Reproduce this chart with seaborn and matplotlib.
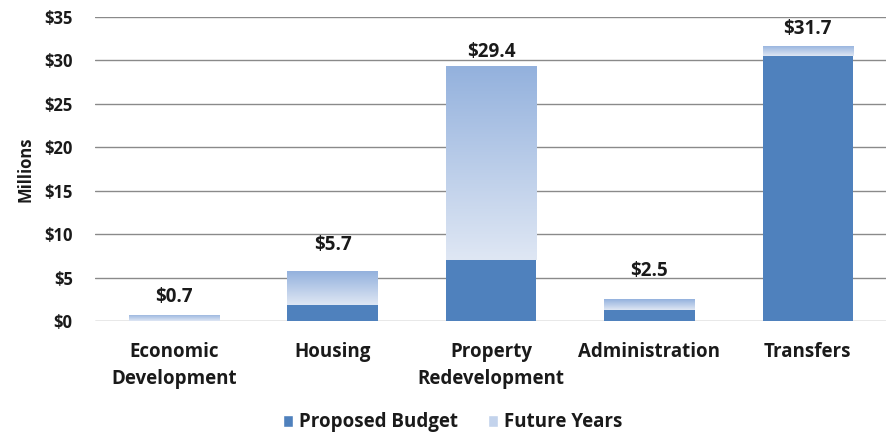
import numpy as np
import pandas as pd
import matplotlib
matplotlib.use("Agg")
import matplotlib.pyplot as plt
import seaborn as sns
from matplotlib.colors import LinearSegmentedColormap
from matplotlib.patches import Patch

# Budget by program area, in millions of dollars
categories = ["Economic\nDevelopment", "Housing", "Property\nRedevelopment",
              "Administration", "Transfers"]
proposed = [0.0, 1.8, 7.0, 1.3, 30.5]
totals = [0.7, 5.7, 29.4, 2.5, 31.7]
total_labels = ["$0.7", "$5.7", "$29.4", "$2.5", "$31.7"]
yticks = [0, 5, 10, 15, 20, 25, 30, 35]
ytick_labels = ["$0", "$5", "$10", "$15", "$20", "$25", "$30", "$35"]
series_names = ["Proposed Budget", "Future Years"]

# Vertical gap (points) between each bar top and its total label
label_gaps = [5.5, 12, 2.5, 13.5, 4.5]

PROPOSED_COLOR = "#4f81bd"
FUTURE_TOP = "#93b1dd"
FUTURE_BOTTOM = "#dfe7f4"
GRID_COLOR = "#8a8a8a"
TEXT_COLOR = "#1a1a1a"
FS = 12
FS_CAT = 13.5

sns.set_theme(style="white")
plt.rcParams["font.family"] = ["Open Sans", "DejaVu Sans"]
plt.rcParams["font.weight"] = "bold"

df = pd.DataFrame({"category": categories, "proposed": proposed, "total": totals})

fig = plt.figure(figsize=(8.87, 4.32), dpi=100)
ax = fig.add_axes([0.107, 0.257, 0.893, 0.704])

# Full-height bars (proposed + future years); their fill is replaced by a gradient
sns.barplot(data=df, x="category", y="total", color=FUTURE_TOP, width=0.57,
            saturation=1, linewidth=0, ax=ax, zorder=1)
future_cmap = LinearSegmentedColormap.from_list("future", [FUTURE_BOTTOM, FUTURE_TOP])
grad = np.linspace(0, 1, 256).reshape(-1, 1)
for patch, lo, hi in zip(list(ax.patches), proposed, totals):
    x0, w = patch.get_x(), patch.get_width()
    patch.set_facecolor("none")
    patch.set_edgecolor("none")
    im = ax.imshow(grad, extent=[x0, x0 + w, lo, hi], origin="lower",
                   cmap=future_cmap, aspect="auto", zorder=1, interpolation="bilinear")
    im.set_clip_path(patch)

# Proposed budget segment on top
sns.barplot(data=df, x="category", y="proposed", color=PROPOSED_COLOR, width=0.57,
            saturation=1, linewidth=0, ax=ax, zorder=2)

for i, (t, lab, gap) in enumerate(zip(totals, total_labels, label_gaps)):
    ax.annotate(lab, (i, t), xytext=(0, gap), textcoords="offset points",
                ha="center", va="bottom", fontsize=FS_CAT, fontweight="bold",
                color=TEXT_COLOR)

ax.set_xlim(-0.5, 4.5)
ax.set_ylim(0, 35)
ax.set_yticks(yticks)
ax.set_yticklabels(ytick_labels)
ax.yaxis.grid(True, color=GRID_COLOR, linewidth=1)
ax.set_axisbelow(True)
for s in ax.spines.values():
    s.set_visible(False)
ax.tick_params(axis="y", length=0, pad=16, labelsize=FS, labelcolor=TEXT_COLOR)
ax.tick_params(axis="x", length=0, pad=15, labelsize=FS_CAT, labelcolor=TEXT_COLOR)
for t in ax.get_xticklabels():
    t.set_linespacing(1.45)
ax.set_xlabel("")
ax.set_ylabel("Millions", fontsize=FS, fontweight="bold", color=TEXT_COLOR, labelpad=7)

handles = [Patch(facecolor=PROPOSED_COLOR), Patch(facecolor="#c3d3ec")]
fig.legend(handles, series_names, loc="center", bbox_to_anchor=(0.51, 0.022),
           ncol=2, frameon=False, fontsize=FS_CAT, handlelength=0.55, handleheight=0.55,
           handletextpad=0.3, columnspacing=1.6, labelcolor=TEXT_COLOR)

fig.savefig("out.png", dpi=100)
